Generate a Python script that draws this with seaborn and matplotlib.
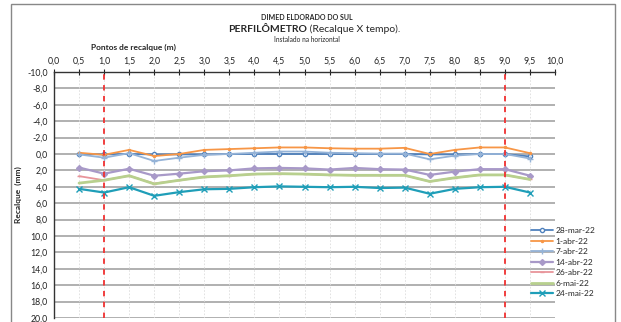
import numpy as np
import pandas as pd
import matplotlib
matplotlib.use("Agg")
import matplotlib.pyplot as plt
import seaborn as sns
from matplotlib.patches import Rectangle

sns.set_style("white")
plt.rcParams['font.family'] = ['Lato', 'DejaVu Sans']

pontos = [0.5, 1.0, 1.5, 2.0, 2.5, 3.0, 3.5, 4.0, 4.5, 5.0,
          5.5, 6.0, 6.5, 7.0, 7.5, 8.0, 8.5, 9.0, 9.5]

datas = ["28-mar-22", "1-abr-22", "7-abr-22", "14-abr-22",
         "26-abr-22", "6-mai-22", "24-mai-22"]

r_28mar = [0.0, 0.05, 0.0, 0.05, 0.05, 0.05, 0.0, 0.0, 0.0, 0.0,
           0.0, 0.0, 0.0, 0.0, 0.05, 0.05, 0.0, 0.0, 0.3]
r_1abr = [-0.15, 0.1, -0.5, 0.25, 0.0, -0.5, -0.6, -0.7, -0.8, -0.8,
          -0.7, -0.65, -0.65, -0.75, 0.0, -0.5, -0.8, -0.8, -0.1]
r_7abr = [0.05, 0.45, -0.1, 0.85, 0.45, 0.1, 0.0, -0.15, -0.3, -0.3,
          -0.15, -0.1, -0.05, -0.05, 0.65, 0.2, 0.0, 0.0, 0.55]
r_14abr = [1.65, 2.4, 1.8, 2.65, 2.4, 2.1, 2.0, 1.75, 1.7, 1.75,
           1.9, 1.7, 1.85, 1.9, 2.55, 2.15, 1.85, 1.85, 2.65]
r_26abr = [2.7, 3.2, 2.65, 3.6, 3.2, 2.8, 2.65, 2.45, 2.4, 2.45,
           2.55, 2.6, 2.6, 2.6, 3.35, 2.9, 2.55, 2.55, 3.1]
r_6mai = [3.55, 3.2, 2.65, 3.65, 3.2, 2.8, 2.65, 2.45, 2.4, 2.45,
          2.55, 2.6, 2.6, 2.6, 3.35, 2.9, 2.55, 2.55, 3.1]
r_24mai = [4.25, 4.7, 4.05, 5.1, 4.65, 4.3, 4.25, 4.05, 3.95, 4.0,
           4.05, 4.0, 4.15, 4.1, 4.85, 4.25, 4.05, 4.0, 4.7]

series = [r_28mar, r_1abr, r_7abr, r_14abr, r_26abr, r_6mai, r_24mai]
cores = ["#4F81BD", "#F79646", "#95B3D7", "#A899C8", "#E8949A", "#B8D08E", "#1F9EB8"]
marcadores = ["o", ".", "+", "D", "_", None, "x"]
msizes = [3, 3, 4, 3, 3, 0, 4]
lws = [1.3, 1.3, 1.3, 1.6, 1.3, 2.0, 1.6]

fig = plt.figure(figsize=(6.21, 3.22), dpi=100)
ax = fig.add_axes([54 / 621, 1 - 318 / 322, 501 / 621, 246 / 322])

handles = []
for nome, vals, cor, mk, ms, lw in zip(datas, series, cores, marcadores, msizes, lws):
    df = pd.DataFrame({"x": pontos, "y": vals})
    kw = {}
    if mk:
        kw = dict(marker=mk, markersize=ms, markeredgewidth=1.0,
                  markeredgecolor=cor, markerfacecolor=cor)
        if mk == "o":
            kw["markerfacecolor"] = "white"
    n0 = len(ax.lines)
    sns.lineplot(data=df, x="x", y="y", ax=ax, color=cor, linewidth=lw,
                 legend=False, **kw)
    ln = ax.lines[n0]
    ln.set_linestyle("-")
    ln.set_label(nome)
    handles.append(ln)

ax.set_xlim(0, 10)
ax.set_ylim(20, -10)
ax.set_xticks(np.arange(0, 10.01, 0.5))
ax.set_xticklabels([f"{v:.1f}".replace(".", ",") for v in np.arange(0, 10.01, 0.5)])
ax.set_yticks(np.arange(-10, 20.01, 2))
ax.set_yticklabels([f"{v:.1f}".replace(".", ",") for v in np.arange(-10, 20.01, 2)])
ax.xaxis.tick_top()
ax.tick_params(axis="x", top=True, bottom=False, labeltop=True, labelbottom=False,
               direction="inout", length=5, width=0.8, labelsize=6.3, pad=2,
               colors="#222222")
ax.tick_params(axis="y", direction="inout", length=5, width=0.8, labelsize=6.3,
               pad=2, colors="#222222")
ax.set_xlabel("")
ax.set_ylabel("Recalque  (mm)", fontsize=6, fontweight="bold", labelpad=4)

for s in ["right", "bottom"]:
    ax.spines[s].set_visible(False)
for s in ["left", "top"]:
    ax.spines[s].set_color("#333333")
    ax.spines[s].set_linewidth(1.0)

for yv in np.arange(-8, 20.01, 2):
    ax.axhline(yv, color="#AAAAAA", linewidth=1.3, zorder=0)
for xv in np.arange(0.5, 10.01, 0.5):
    ax.axvline(xv, color="#DDDDDD", linewidth=0.6, linestyle=(0, (2, 2)), zorder=0)
for xv in [1.0, 9.0]:
    ax.axvline(xv, color="#F03030", linewidth=1.3, linestyle=(0, (3, 3)), zorder=5)

leg = ax.legend(handles=handles, loc="upper left",
                bbox_to_anchor=(474 / 501, 1 - 152 / 246),
                frameon=False, fontsize=6, handlelength=2.6, labelspacing=0.42,
                handletextpad=0.3, borderaxespad=0, numpoints=1)

fig.add_artist(Rectangle((11 / 621, -0.05), 604 / 621, 1.0 - 4 / 322 + 0.05,
                         transform=fig.transFigure, fill=False,
                         edgecolor="#888888", linewidth=1.0))

fig.text(307 / 621, 1 - 17 / 322, "DIMED ELDORADO DO SUL", ha="center", va="center",
         fontsize=5, fontweight="bold")
fig.text(307 / 621, 1 - 29 / 322, "PERFILÔMETRO", ha="right", va="center",
         fontsize=7.5, fontweight="bold")
fig.text(307 / 621, 1 - 29 / 322, " (Recalque X tempo).", ha="left", va="center",
         fontsize=7.5)
fig.text(307 / 621, 1 - 40 / 322, "Instalado na horizontal", ha="center", va="center",
         fontsize=4.8)
fig.text(91 / 621, 1 - 47 / 322, "Pontos de recalque (m)", ha="left", va="center",
         fontsize=6, fontweight="bold")

fig.savefig("out.png", dpi=100)
